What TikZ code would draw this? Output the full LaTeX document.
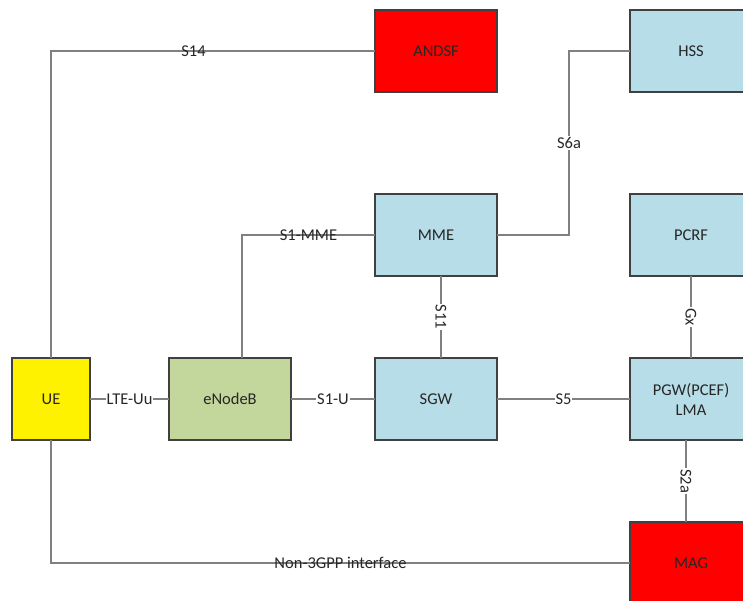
\documentclass[tikz,border=0pt]{standalone}
\usepackage{fontspec}
\setmainfont{Carlito}
\usetikzlibrary{calc}
\definecolor{epcblue}{HTML}{B7DDE8}
\definecolor{enbgreen}{HTML}{C3D69B}
\tikzset{
  blk/.style={draw=black!75,line width=1.2pt,minimum width=122pt,minimum height=82pt,inner sep=0pt,outer sep=0pt,text=black!85,align=center,font=\fontsize{16.5}{20}\selectfont},
  lnk/.style={draw=black!50,line width=1.4pt},
  lbl/.style={inner sep=1pt,text=black!85,font=\fontsize{16.5}{20}\selectfont},
  lblw/.style={lbl,fill=white}
}
\begin{document}
\begin{tikzpicture}[x=1pt,y=-1pt]
\useasboundingbox (0,0) rectangle (743,600);
\clip (0,0) rectangle (743,600);
% boxes
\node[blk,fill=red] (ANDSF) at (436,51) {ANDSF};\node[blk,fill=epcblue] (HSS) at (691,51) {HSS};
\node[blk,fill=epcblue] (MME) at (436,235) {MME};\node[blk,fill=epcblue] (PCRF) at (691,235) {PCRF};
\node[blk,fill=yellow,minimum width=78pt] (UE) at (51,399) {UE};
\node[blk,fill=enbgreen] (eNB) at (230,399) {eNodeB};
\node[blk,fill=epcblue] (SGW) at (436,399) {SGW};
\node[blk,fill=epcblue] (PGW) at (691,399) {PGW(PCEF)\\LMA};
\node[blk,fill=red] (MAG) at (691,563) {MAG};
% links
\draw[lnk] (UE.north) |- node[lbl,pos=.72] (s14) {S14} (ANDSF.west);
\draw[lnk] ($(eNB.north)+(12,0)$) |- node[lbl,pos=.75] (s1mme) {S1-MME} (MME.west);
\draw[lnk] (MME.east) -- ++(72,0) |- node[lblw,pos=.25] (s6a) {S6a} (HSS.west);
\draw[lnk] ($(MME.south)+(5,0)$) -- node[lblw,rotate=-90] (s11) {S11} ($(SGW.north)+(5,0)$);
\draw[lnk] (PCRF.south) -- node[lblw,rotate=-90] (gx) {Gx} (PGW.north);
\draw[lnk] (UE.east) -- node[lblw] (lteuu) {LTE-Uu} (eNB.west);
\draw[lnk] (eNB.east) -- node[lblw] (s1u) {S1-U} (SGW.west);
\draw[lnk] (SGW.east) -- node[lblw] (s5) {S5} (PGW.west);
\draw[lnk] ($(PGW.south)+(-5,0)$) -- node[lblw,rotate=-90] (s2a) {S2a} ($(MAG.north)+(-5,0)$);
\draw[lnk] (UE.south) |- node[lbl,pos=.75] (non3gpp) {Non-3GPP interface} (MAG.west);
\end{tikzpicture}
\end{document}
